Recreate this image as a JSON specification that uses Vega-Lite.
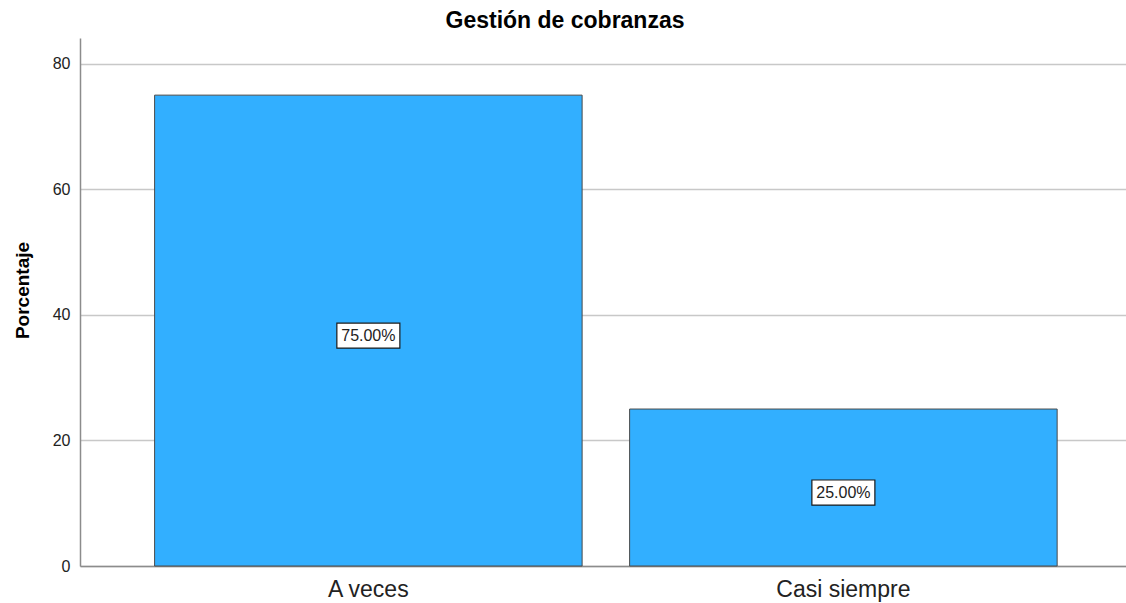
{
  "$schema": "https://vega.github.io/schema/vega-lite/v6.json",
  "width": 1046,
  "height": 528,
  "autosize": "none",
  "padding": {"left": 80, "top": 38, "right": 0, "bottom": 37},
  "background": "white",
  "title": {
    "text": "Gestión de cobranzas",
    "anchor": "middle",
    "dx": -38,
    "dy": 23,
    "offset": 10,
    "baseline": "alphabetic",
    "font": "Liberation Sans",
    "fontSize": 23,
    "fontWeight": "bold",
    "color": "#000000"
  },
  "config": {
    "view": {"stroke": null},
    "font": "Liberation Sans"
  },
  "data": {
    "values": [
      {"categoria": "A veces", "porcentaje": 75},
      {"categoria": "Casi siempre", "porcentaje": 25}
    ]
  },
  "transform": [
    {"calculate": "datum.porcentaje / 2", "as": "medio"},
    {"calculate": "format(datum.porcentaje, '.2f') + '%'", "as": "etiqueta"}
  ],
  "encoding": {
    "x": {
      "field": "categoria",
      "type": "nominal",
      "sort": null,
      "scale": {"paddingInner": 0.1, "paddingOuter": 0.151, "align": 0.52},
      "axis": {
        "title": null,
        "labelAngle": 0,
        "labelFontSize": 23,
        "labelColor": "#222222",
        "labelPadding": 12,
        "ticks": false,
        "domainColor": "#8c8c8c",
        "domainWidth": 1.5,
        "grid": false
      }
    }
  },
  "layer": [
    {
      "mark": {"type": "bar", "color": "#32AFFF", "stroke": "#4a4a4a", "strokeWidth": 1},
      "encoding": {
        "y": {
          "field": "porcentaje",
          "type": "quantitative",
          "scale": {"domain": [0, 84.1], "nice": false},
          "axis": {
            "title": "Porcentaje",
            "titleFontSize": 19,
            "titleFontWeight": "bold",
            "titleColor": "#000000",
            "titleX": -52,
            "titleY": 252,
            "titleAngle": -90,
            "titleAlign": "center",
            "titleBaseline": "alphabetic",
            "values": [0, 20, 40, 60, 80],
            "labelFontSize": 16,
            "labelColor": "#222222",
            "labelPadding": 10,
            "ticks": false,
            "domainColor": "#8c8c8c",
            "domainWidth": 1.5,
            "grid": true,
            "gridColor": "#c8c8c8",
            "gridWidth": 1.5
          }
        }
      }
    },
    {
      "mark": {
        "type": "point",
        "shape": "M-1,-0.397H1V0.397H-1Z",
        "filled": true,
        "fill": "white",
        "stroke": "#1a1a1a",
        "strokeWidth": 1.2,
        "opacity": 1,
        "size": 3969,
        "yOffset": 5
      },
      "encoding": {
        "y": {"field": "medio", "type": "quantitative"}
      }
    },
    {
      "mark": {
        "type": "text",
        "font": "Liberation Sans",
        "fontSize": 16,
        "color": "#222222",
        "baseline": "middle",
        "align": "center",
        "dy": 5
      },
      "encoding": {
        "y": {"field": "medio", "type": "quantitative"},
        "text": {"field": "etiqueta", "type": "nominal"}
      }
    }
  ]
}
